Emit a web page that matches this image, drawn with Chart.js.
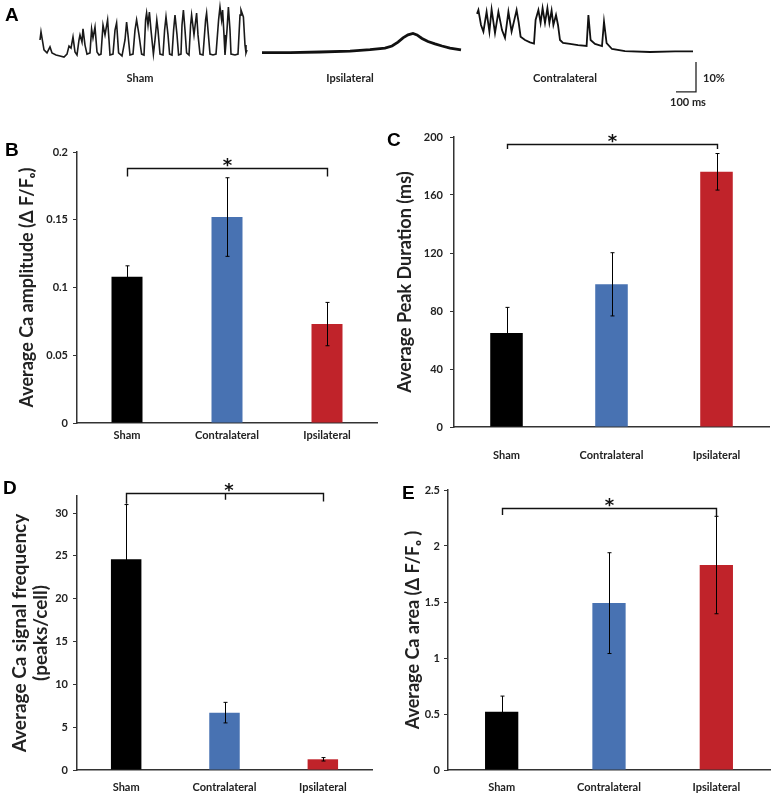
<!DOCTYPE html>
<html>
<head>
<meta charset="utf-8">
<script src="https://cdn.jsdelivr.net/npm/chart.js@4.4.1/dist/chart.umd.min.js"></script>
<style>
  body { margin:0; background:#fff; width:777px; height:799px; position:relative; overflow:hidden; font-family: Lato, sans-serif; }
  canvas { position:absolute; }
  .lbl { position:absolute; font-weight:bold; font-size:11px; color:#222; transform:translate(-50%,-50%); white-space:nowrap; }
  .letter { position:absolute; font-family:"Liberation Sans", Arial, sans-serif; font-weight:bold; font-size:19px; line-height:19px; color:#000; }
</style>
</head>
<body>

<canvas id="traces" width="777" height="110" style="left:0;top:0"></canvas>
<canvas id="chartB" width="380" height="320" style="left:0;top:130px"></canvas>
<canvas id="chartC" width="397" height="350" style="left:380px;top:115px"></canvas>
<canvas id="chartD" width="380" height="329" style="left:0;top:470px"></canvas>
<canvas id="chartE" width="397" height="329" style="left:380px;top:470px"></canvas>

<div class="letter" style="left:5px;top:5px">A</div>
<div class="letter" style="left:5px;top:140px">B</div>
<div class="letter" style="left:387px;top:130px">C</div>
<div class="letter" style="left:3px;top:478px">D</div>
<div class="letter" style="left:402px;top:483px">E</div>

<div class="lbl" style="left:140px;top:77px">Sham</div>
<div class="lbl" style="left:350px;top:77px">Ipsilateral</div>
<div class="lbl" style="left:565px;top:77px">Contralateral</div>
<div class="lbl" style="left:714px;top:77px">10%</div>
<div class="lbl" style="left:688px;top:101px">100 ms</div>

<script>
// ---- data ----
var categories = ['Sham', 'Contralateral', 'Ipsilateral'];
var barColors = ['#000000', '#4872b2', '#c0232a'];

var ampMean = [0.108, 0.152, 0.073];
var ampErr  = [0.008, 0.029, 0.016];

var durMean = [64.8, 98.4, 176];
var durErr  = [17.7, 21.8, 12.6];

var freqMean = [24.6, 6.7, 1.25];
var freqErr  = [6.4, 1.2, 0.2];

var areaMean = [0.52, 1.49, 1.83];
var areaErr  = [0.14, 0.45, 0.435];

// example traces: [time ms, dF/F %]
var shamTrace = [[0,5.0],[5,7.7],[10,5.7],[20,1.7],[35,0.7],[50,2.7],[60,0.7],[80,0],[100,-0.3],[120,-0.7],[135,0.3],[145,3.0],[155,2.3],[165,6.0],[175,1.0],[185,0],[195,5.0],[200,6.7],[210,4.3],[215,8.7],[225,3.3],[235,0.3],[250,0.7],[258,8.7],[265,5.7],[275,9.3],[285,1.0],[295,0],[305,0.3],[315,10],[325,6.7],[338,11.7],[345,5],[350,0],[365,0.3],[375,8.3],[383,10.7],[393,0.7],[410,-0.3],[425,5],[433,11],[440,6.7],[450,0],[465,0.3],[475,8.3],[483,11.7],[495,6.7],[508,0.3],[520,0],[528,11.7],[533,14],[540,10],[547,14.3],[555,8.3],[567,0.3],[575,5],[584,11.7],[590,8.3],[600,0.3],[615,0],[623,8.3],[630,12.7],[640,6.7],[648,0.3],[660,0],[668,8.3],[675,13.3],[685,6.7],[693,0],[705,0.3],[710,10],[717,15],[725,8.3],[733,0.7],[745,0],[753,10],[758,13.3],[770,6.7],[783,14],[790,6.7],[800,0.3],[815,0],[828,11.7],[833,14],[840,8.3],[850,0.3],[865,0],[880,0.3],[893,11.7],[900,16],[908,11.7],[913,15],[920,6.7],[925,0],[935,8.3],[942,16],[950,8.3],[955,0.3],[975,0],[990,0.3],[1000,13.3],[1005,15],[1017,12.7],[1025,3.3],[1030,0.7],[1035,1.7]];

var ipsiTrace = [[0,0.8],[140,0.8],[290,1.0],[440,1.3],[540,1.8],[615,2.3],[650,3.0],[680,4.3],[705,5.7],[730,6.7],[755,7.2],[775,6.7],[800,5.5],[830,4.5],[865,3.7],[900,3.0],[940,2.3],[995,1.7]];

var contraTrace = [[0,13.7],[7,15],[20,10],[32,7.8],[48,14.4],[62,7.8],[73,15.2],[90,7.3],[107,14.4],[125,8.3],[140,5.7],[157,14.4],[173,7.8],[198,15],[208,11],[218,6.1],[240,5],[265,4.2],[285,3.8],[293,11.7],[307,15],[318,10.7],[328,15.6],[340,10.7],[352,15.6],[362,10.7],[373,14.8],[382,10],[395,13.3],[405,10],[415,5],[430,4],[465,3.7],[505,3.3],[548,3],[557,13.3],[568,5],[590,3.7],[625,3],[635,11.1],[648,4],[675,2],[740,1.3],[865,1],[990,1.2],[1080,1.2]];

// ---- panel A: traces ----
function shift(tr, t0) {
  return tr.map(function (p) { return { x: p[0] + t0, y: p[1] }; });
}
var barT = 3380, barY = -12.3; // scale bar corner, 100 ms x 10 %

new Chart(document.getElementById('traces'), {
  type: 'scatter',
  data: {
    datasets: [
      { data: shift(shamTrace, 200), showLine: true, borderColor: '#1a1a1a', borderWidth: 1.6, pointRadius: 0 },
      { data: shift(ipsiTrace, 1310), showLine: true, borderColor: '#111', borderWidth: 2.8, pointRadius: 0 },
      { data: shift(contraTrace, 2385), showLine: true, borderColor: '#111', borderWidth: 1.8, pointRadius: 0 },
      { data: [{x: barT, y: barY}, {x: barT + 100, y: barY}, {x: barT + 100, y: barY + 10}],
        showLine: true, borderColor: '#222', borderWidth: 1.3, pointRadius: 0 }
    ]
  },
  options: {
    responsive: false, animation: false, devicePixelRatio: 1,
    layout: { padding: 0 },
    plugins: { legend: { display: false }, tooltip: { enabled: false } },
    scales: {
      x: { type: 'linear', display: false, min: 0, max: 3885 },
      y: { display: false, min: -18.33, max: 18.33 }
    }
  }
});

// ---- error bars + significance bracket ----
var errBars = {
  id: 'errBars',
  afterDatasetsDraw: function (chart, args, opts) {
    var ctx = chart.ctx, y = chart.scales.y;
    var meta = chart.getDatasetMeta(0);
    var vals = chart.data.datasets[0].data;
    ctx.save();
    ctx.strokeStyle = '#000';
    ctx.lineWidth = 1;
    opts.errors.forEach(function (e, i) {
      var cx = Math.round(meta.data[i].x) + 0.5;
      var yt = y.getPixelForValue(vals[i] + e), yb = y.getPixelForValue(vals[i] - e);
      ctx.beginPath();
      ctx.moveTo(cx, yt); ctx.lineTo(cx, yb);
      ctx.moveTo(cx - 2, yt); ctx.lineTo(cx + 2, yt);
      ctx.moveTo(cx - 2, yb); ctx.lineTo(cx + 2, yb);
      ctx.stroke();
    });
    ctx.restore();
  },
  afterDraw: function (chart, args, opts) {
    var b = opts.bracket;
    if (!b) return;
    var ctx = chart.ctx, y = chart.scales.y;
    var meta = chart.getDatasetMeta(0);
    var x0 = Math.round(meta.data[b.from].x) + 0.5, x1 = Math.round(meta.data[b.to].x) + 0.5;
    var yl = Math.round(y.getPixelForValue(b.level)) + 0.5;
    ctx.save();
    ctx.strokeStyle = '#111';
    ctx.lineWidth = 1.4;
    ctx.beginPath();
    ctx.moveTo(x0, y.getPixelForValue(b.drops[0]));
    ctx.lineTo(x0, yl);
    ctx.lineTo(x1, yl);
    ctx.lineTo(x1, y.getPixelForValue(b.drops[1]));
    if (b.mid !== undefined) {
      var xm = Math.round(meta.data[b.mid].x) + 0.5;
      ctx.moveTo(xm, yl);
      ctx.lineTo(xm, y.getPixelForValue(b.drops[2]));
    }
    ctx.stroke();
    ctx.fillStyle = '#111';
    ctx.font = 'bold 18px "DejaVu Sans"';
    ctx.textAlign = 'center';
    ctx.textBaseline = 'alphabetic';
    ctx.fillText('*', (x0 + x1) / 2 + (b.starDx || 0), yl + 2);
    ctx.restore();
  }
};

var tickFont = { family: 'Lato', weight: 'bold', size: 11 };

function fmt(v) { return String(Number(v.toFixed(4))); }

function barChart(id, g) {
  return new Chart(document.getElementById(id), {
    type: 'bar',
    data: {
      labels: categories,
      datasets: [{ data: g.mean, backgroundColor: barColors, borderWidth: 0,
                   barPercentage: 0.31, categoryPercentage: 1 }]
    },
    options: {
      responsive: false, animation: false, devicePixelRatio: 1,
      layout: { padding: { top: g.padTop, right: g.padRight, left: 0, bottom: 0 } },
      plugins: {
        legend: { display: false }, tooltip: { enabled: false },
        errBars: { errors: g.err, bracket: g.bracket }
      },
      scales: {
        x: {
          grid: { display: false, drawTicks: false },
          border: { display: true, color: '#333', width: 1.5 },
          ticks: { font: tickFont, color: '#222', padding: g.xPad },
          afterFit: function (s) { s.height = g.xHeight; }
        },
        y: {
          min: 0, max: g.max,
          grid: { drawOnChartArea: false, drawTicks: true, tickLength: 4, color: '#333' },
          border: { display: true, color: '#333', width: 1.5 },
          ticks: { stepSize: g.step, font: tickFont, color: '#222', padding: g.yPad, callback: fmt },
          afterBuildTicks: function (s) {
            s.ticks = s.ticks.filter(function (t) {
              return Math.abs(t.value / g.step - Math.round(t.value / g.step)) < 1e-6;
            });
          },
          title: { display: true, text: g.title, color: '#222',
                   font: { family: 'Lato', weight: 'bold', size: g.titleSize, lineHeight: g.titleLH || 1.2 },
                   padding: { top: g.titlePad, bottom: 0 } },
          afterFit: function (s) { s.width = g.yWidth; }
        }
      }
    },
    plugins: [errBars]
  });
}

barChart('chartB', {
  mean: ampMean, err: ampErr, max: 0.2, step: 0.05,
  title: 'Average Ca amplitude (\u0394 F/F\u2092)', titleSize: 18,
  padTop: 22, padRight: 3, yWidth: 77, xHeight: 27, xPad: 6, yPad: 5, titlePad: 16,
  bracket: { from: 0, to: 2, level: 0.1884, drops: [0.182, 0.182] }
});

barChart('chartC', {
  mean: durMean, err: durErr, max: 200, step: 40,
  title: 'Average Peak Duration (ms)', titleSize: 18,
  padTop: 22, padRight: 8, yWidth: 74, xHeight: 38, xPad: 22, yPad: 7, titlePad: 14,
  bracket: { from: 0, to: 2, level: 195.2, drops: [191.7, 191.7] }
});

barChart('chartD', {
  mean: freqMean, err: freqErr, max: 32, step: 5,
  title: ['Average Ca signal frequency', '(peaks/cell)'], titleSize: 19, titleLH: 1.07,
  padTop: 26, padRight: 8, yWidth: 77, xHeight: 29, xPad: 11, yPad: 5, titlePad: 10,
  bracket: { from: 0, to: 2, mid: 1, level: 32.3, drops: [31.1, 31.35, 31.55], starDx: 4 }
});

barChart('chartE', {
  mean: areaMean, err: areaErr, max: 2.5, step: 0.5,
  title: 'Average Ca area (\u0394 F/F\u2092 )', titleSize: 18,
  padTop: 20, padRight: 7, yWidth: 68, xHeight: 29, xPad: 11, yPad: 4, titlePad: 22,
  bracket: { from: 0, to: 2, level: 2.342, drops: [2.277, 2.268] }
});
</script>
</body>
</html>
